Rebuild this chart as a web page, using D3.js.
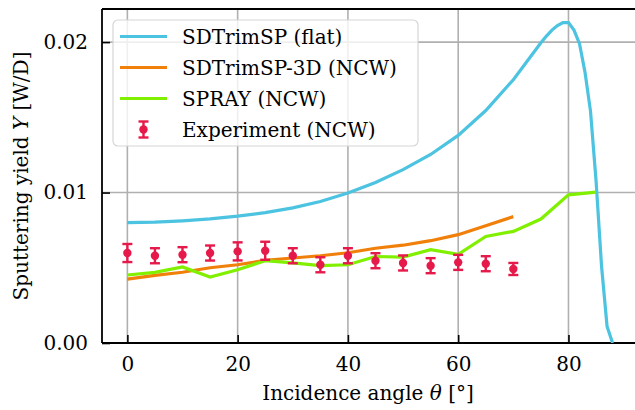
<!DOCTYPE html>
<html>
<head>
<meta charset="utf-8">
<script src="https://cdn.jsdelivr.net/npm/d3@7/dist/d3.min.js"></script>
<style>
  body { margin: 0; background: #fff; }
  text { font-family: "DejaVu Serif", serif; fill: #000; }
</style>
</head>
<body>
<svg id="chart" width="635" height="410"></svg>
<script>
// SDTrimSP (flat)
const flatAngle = [0, 5, 10, 15, 20, 25, 30, 35, 40, 45, 50, 55, 60, 65, 70, 75, 76, 77, 78, 79, 80, 81, 82, 83, 84, 85, 86, 87, 88];
const flatYield = [0.0080, 0.00803, 0.00812, 0.00825, 0.00843, 0.00867, 0.00898, 0.00940, 0.00997, 0.01067, 0.01152, 0.01253, 0.01380, 0.01545, 0.01750, 0.01995, 0.0204, 0.0208, 0.0211, 0.0213, 0.0213, 0.0208, 0.0199, 0.0180, 0.0154, 0.0108, 0.0051, 0.0011, 0.0];

// SDTrimSP-3D (NCW)
const sd3Angle = [0, 5, 10, 15, 20, 25, 30, 35, 40, 45, 50, 55, 60, 65, 70];
const sd3Yield = [0.00425, 0.0045, 0.0047, 0.0050, 0.0052, 0.0055, 0.00565, 0.0058, 0.0060, 0.0063, 0.0065, 0.0068, 0.0072, 0.0078, 0.0084];

// SPRAY (NCW)
const sprayAngle = [0, 5, 10, 15, 20, 25, 30, 35, 40, 45, 50, 55, 60, 65, 70, 75, 80, 85];
const sprayYield = [0.00452, 0.00469, 0.00505, 0.00439, 0.00487, 0.00547, 0.00532, 0.00514, 0.0052, 0.00575, 0.00571, 0.0062, 0.0059, 0.00708, 0.00742, 0.00824, 0.00985, 0.01003];

// Experiment (NCW)
const expAngle = [0, 5, 10, 15, 20, 25, 30, 35, 40, 45, 50, 55, 60, 65, 70];
const expYield = [0.00598, 0.0058, 0.00587, 0.00598, 0.00609, 0.00613, 0.0058, 0.0052, 0.0058, 0.00547, 0.00532, 0.00514, 0.00536, 0.00527, 0.00492];
const expErr = [0.0006, 0.0005, 0.0005, 0.0005, 0.0006, 0.0006, 0.0005, 0.0005, 0.0005, 0.0005, 0.0005, 0.0005, 0.0005, 0.0005, 0.0004];

const xTicks = [0, 20, 40, 60, 80];
const yTicks = [0, 0.01, 0.02];

const colFlat = "#4cc3e0", col3D = "#f0800a", colSpray = "#80f000", colExp = "#e6194b";

const svg = d3.select("#chart");
const area = { left: 102, right: 660, top: 9, bottom: 343 };

const x = d3.scaleLinear().domain([-4.6, 96.6]).range([area.left, area.right]);
const y = d3.scaleLinear().domain([0, 0.0222]).range([area.bottom, area.top]);

// grid
svg.append("g").selectAll("line").data(xTicks).join("line")
    .attr("x1", d => x(d)).attr("x2", d => x(d))
    .attr("y1", area.top).attr("y2", area.bottom)
    .attr("stroke", "#b0b0b0").attr("stroke-width", 1.6);
svg.append("g").selectAll("line").data(yTicks).join("line")
    .attr("x1", area.left).attr("x2", area.right)
    .attr("y1", d => y(d)).attr("y2", d => y(d))
    .attr("stroke", "#b0b0b0").attr("stroke-width", 1.6);

// axes, ticks inward
const axB = svg.append("g")
    .attr("transform", `translate(0, ${area.bottom})`)
    .call(d3.axisBottom(x).tickValues(xTicks).tickSize(-8).tickPadding(14).tickFormat(d3.format("d")));
const axL = svg.append("g")
    .attr("transform", `translate(${area.left}, 0)`)
    .call(d3.axisLeft(y).tickValues(yTicks).tickSize(-8).tickPadding(14).tickFormat(d3.format(".2f")));
[axB, axL].forEach(ax => {
    ax.select(".domain").remove();
    ax.selectAll(".tick line").attr("stroke", "#000").attr("stroke-width", 1.6);
    ax.selectAll("text").style("font-size", "20px").style("font-family", "DejaVu Serif");
});

// spines
svg.append("line").attr("x1", area.left).attr("x2", area.left).attr("y1", area.top).attr("y2", area.bottom)
    .attr("stroke", "#000").attr("stroke-width", 1.8);
svg.append("line").attr("x1", area.left).attr("x2", area.right).attr("y1", area.bottom).attr("y2", area.bottom)
    .attr("stroke", "#000").attr("stroke-width", 1.8);
svg.append("line").attr("x1", area.left).attr("x2", area.right).attr("y1", area.top).attr("y2", area.top)
    .attr("stroke", "#000").attr("stroke-width", 1.8);

const line = d3.line().x(d => x(d[0])).y(d => y(d[1]));
const clip = svg.append("clipPath").attr("id", "clip").append("rect")
    .attr("x", area.left).attr("y", area.top).attr("width", area.right - area.left).attr("height", area.bottom - area.top);
const plot = svg.append("g").attr("clip-path", "url(#clip)");

function addLine(xs, ys, color) {
    plot.append("path")
        .datum(d3.zip(xs, ys))
        .attr("fill", "none")
        .attr("stroke", color)
        .attr("stroke-width", 3.2)
        .attr("d", line);
}
addLine(flatAngle, flatYield, colFlat);
addLine(sd3Angle, sd3Yield, col3D);
addLine(sprayAngle, sprayYield, colSpray);

// experiment with error bars
const exp = plot.append("g");
expAngle.forEach((a, i) => {
    const cx = x(a), lo = y(expYield[i] - expErr[i]), hi = y(expYield[i] + expErr[i]);
    exp.append("line").attr("x1", cx).attr("x2", cx).attr("y1", lo).attr("y2", hi)
        .attr("stroke", colExp).attr("stroke-width", 2.4);
    [lo, hi].forEach(v => exp.append("line").attr("x1", cx - 5).attr("x2", cx + 5).attr("y1", v).attr("y2", v)
        .attr("stroke", colExp).attr("stroke-width", 2.4));
    exp.append("circle").attr("cx", cx).attr("cy", y(expYield[i])).attr("r", 4.2).attr("fill", colExp);
});

// legend
const lg = svg.append("g");
lg.append("rect").attr("x", 113).attr("y", 20).attr("width", 305).attr("height", 126).attr("rx", 5)
    .attr("fill", "#fff").attr("fill-opacity", 0.8).attr("stroke", "#d6d6d6").attr("stroke-width", 1.2);
const legendItems = [
    { label: "SDTrimSP (flat)", color: colFlat, type: "line" },
    { label: "SDTrimSP-3D (NCW)", color: col3D, type: "line" },
    { label: "SPRAY (NCW)", color: colSpray, type: "line" },
    { label: "Experiment (NCW)", color: colExp, type: "err" }
];
legendItems.forEach((it, i) => {
    const cy = 36.5 + i * 31;
    if (it.type === "line") {
        lg.append("line").attr("x1", 120).attr("x2", 167).attr("y1", cy).attr("y2", cy)
            .attr("stroke", it.color).attr("stroke-width", 3.2);
    } else {
        lg.append("line").attr("x1", 143.5).attr("x2", 143.5).attr("y1", cy - 8).attr("y2", cy + 8)
            .attr("stroke", it.color).attr("stroke-width", 2.4);
        [cy - 8, cy + 8].forEach(v => lg.append("line").attr("x1", 138.5).attr("x2", 148.5).attr("y1", v).attr("y2", v)
            .attr("stroke", it.color).attr("stroke-width", 2.4));
        lg.append("circle").attr("cx", 143.5).attr("cy", cy).attr("r", 4.2).attr("fill", it.color);
    }
    lg.append("text").attr("x", 182).attr("y", cy).attr("dy", "0.35em")
        .style("font-size", "20px").text(it.label);
});

// axis labels
const xl = svg.append("text").attr("x", 368).attr("y", 400).attr("text-anchor", "middle").style("font-size", "20px");
xl.append("tspan").text("Incidence angle ");
xl.append("tspan").style("font-style", "italic").text("θ");
xl.append("tspan").text(" [°]");

const yl = svg.append("text").attr("transform", "translate(28, 176) rotate(-90)")
    .attr("text-anchor", "middle").style("font-size", "20px");
yl.append("tspan").text("Sputtering yield ");
yl.append("tspan").style("font-style", "italic").text("Y");
yl.append("tspan").text(" [W/D]");
</script>
</body>
</html>
